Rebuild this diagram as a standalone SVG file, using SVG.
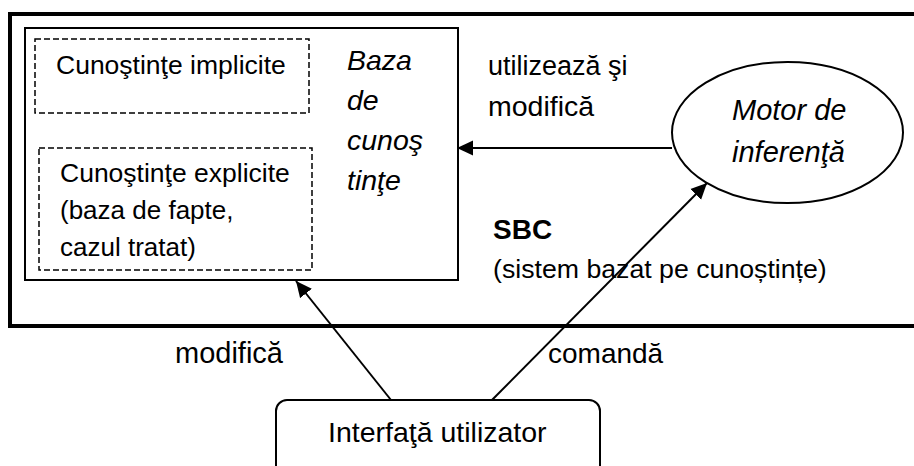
<svg xmlns="http://www.w3.org/2000/svg" width="914" height="466" viewBox="0 0 914 466">
  <style>
    text { font-family: "Liberation Sans", Arial, sans-serif; font-size: 26px; fill: #000; }
    .it { font-style: italic; font-size: 28.5px; }
    .bold { font-weight: bold; font-size: 28px; }
    .box { fill: none; stroke: #000; stroke-width: 2; }
    .dash { fill: none; stroke: #000; stroke-width: 1.5; stroke-dasharray: 6 3; }
    .conn { fill: none; stroke: #000; stroke-width: 2; marker-end: url(#arrow); }
  </style>
  <defs>
    <marker id="arrow" viewBox="0 0 16 16" refX="16" refY="8" markerWidth="16" markerHeight="16" markerUnits="userSpaceOnUse" orient="auto">
      <path d="M16,8 L0,0.5 L0,15.5 z" fill="#000"/>
    </marker>
  </defs>
  <rect width="914" height="466" fill="#fff"/>

  <!-- system boundary (SBC), open on the right -->
  <g id="sbc">
    <path d="M920,14 H10 V326 H920" fill="none" stroke="#000" stroke-width="4"/>
    <text class="bold" x="493" y="239">SBC</text>
    <text x="493" y="278" style="font-size:26.7px">(sistem bazat pe cunoștințe)</text>
  </g>

  <!-- knowledge base -->
  <g id="baza-cunostinte">
    <rect class="box" x="25" y="28" width="433" height="252"/>
    <text class="it" x="347" y="70">Baza</text>
    <text class="it" x="347" y="110">de</text>
    <text class="it" x="347" y="150">cunoş</text>
    <text class="it" x="347" y="190">tinţe</text>
  </g>

  <g id="cunostinte-implicite">
    <rect class="dash" x="35" y="39" width="274" height="74"/>
    <text x="56" y="74" style="font-size:26.5px">Cunoştinţe implicite</text>
  </g>

  <g id="cunostinte-explicite">
    <rect class="dash" x="39" y="148" width="273" height="122"/>
    <text x="60" y="182" style="font-size:26.5px">Cunoştinţe explicite</text>
    <text x="60" y="219">(baza de fapte,</text>
    <text x="60" y="256">cazul tratat)</text>
  </g>

  <!-- inference engine -->
  <g id="motor-inferenta">
    <ellipse class="box" cx="787.5" cy="132.5" rx="115.5" ry="70.5"/>
    <text class="it" x="732" y="120" style="font-size:29px">Motor de</text>
    <text class="it" x="732" y="162" style="font-size:29px">inferenţă</text>
  </g>

  <!-- user interface -->
  <g id="interfata-utilizator">
    <rect class="box" x="276" y="400" width="324" height="80" rx="11"/>
    <text x="328" y="442" style="font-size:28.5px">Interfaţă utilizator</text>
  </g>

  <!-- connectors -->
  <g id="connectors">
    <line class="conn" x1="672" y1="148" x2="457" y2="148"/>
    <line class="conn" x1="492" y1="400" x2="707" y2="183"/>
    <line class="conn" x1="391" y1="400" x2="296" y2="281"/>
    <text x="488" y="75" style="font-size:27px">utilizează şi</text>
    <text x="488" y="116" style="font-size:28.5px">modifică</text>
    <text x="175" y="363" style="font-size:29px">modifică</text>
    <text x="548" y="363" style="font-size:28px">comandă</text>
  </g>
</svg>
